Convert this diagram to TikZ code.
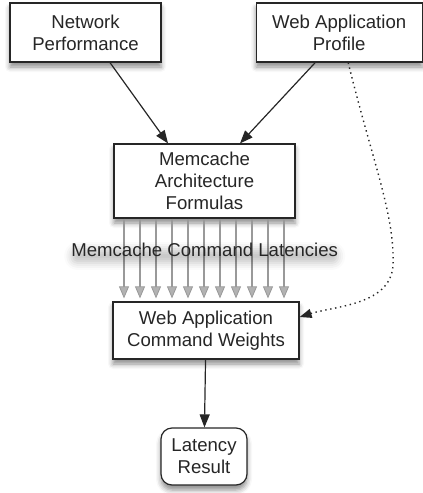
\documentclass[tikz,border=0pt]{standalone}
\usepackage{fontspec}
\setmainfont{Liberation Sans}
\usetikzlibrary{arrows.meta,shadows.blur,calc}

\tikzset{
  box/.style={draw=black!85, line width=1.2pt, fill=white, align=center,
    font=\fontsize{18.6}{22}\selectfont, text=black!85, inner sep=0pt,
    blur shadow={shadow xshift=0pt, shadow yshift=-5pt,
                 shadow blur radius=5pt, shadow opacity=45}},
  arr/.style={-{Triangle[length=13pt,width=10pt]}, line width=1.2pt, draw=black!85},
  garr/.style={-{Triangle[length=12pt,width=10pt,fill=black!30,line width=0.8pt]},
    draw=black!40, line width=2pt, shorten >=3pt},
  dotarr/.style={-{Triangle[length=12pt,width=9pt]}, draw=black!85,
    line width=1.4pt, dash pattern=on 1.4pt off 3.6pt},
  lbl/.style={font=\fontsize{18.6}{22}\selectfont, inner sep=0pt, text=black!85,
    rounded corners=6pt,
    blur shadow={shadow xshift=0pt, shadow yshift=-6pt,
                 shadow blur radius=7pt, shadow opacity=22}}
}

\begin{document}
\begin{tikzpicture}[x=1pt,y=-1pt]
\useasboundingbox (0,0) rectangle (423,493);

% boxes
\node[box, minimum width=151pt, minimum height=59pt] (net) at (85.5,32.5)
  {Network\\Performance};
\node[box, minimum width=166pt, minimum height=59pt] (prof) at (339.2,32.5)
  {Web Application\\Profile};
\node[box, minimum width=181pt, minimum height=74pt] (form) at (204.5,181)
  {Memcache\\Architecture\\Formulas};
\node[box, minimum width=186pt, minimum height=57pt] (wts) at (206,330.5)
  {Web Application\\Command Weights};
\node[box, minimum width=86pt, minimum height=57pt, rounded corners=11pt] (res) at (204,456.5)
  {Latency\\Result};

% inputs into the formulas
\draw[arr] ([xshift=24.5pt]net.south) -- ([xshift=-36.5pt]form.north);
\draw[arr] ([xshift=-24pt]prof.south) -- ([xshift=35.5pt]form.north);

% bundle of command latencies
\foreach \k in {-5,...,5}
  \draw[garr] ([xshift=\k*16pt-0.5pt]form.south) -- ([xshift=\k*16pt-2pt]wts.north);

% label over the bundle, with a soft shadow
\node[lbl] (lat) at (204.7,250) {Memcache Command Latencies};

% profile feeds the weights
\coordinate (c1) at (372,160);
\coordinate (c2) at (395,215);
\coordinate (mid) at (393,265);
\coordinate (c3) at (391,305);
\coordinate (c4) at (335,306);
\draw[dotarr] ([xshift=9pt]prof.south) .. controls (c1) and (c2) .. (mid)
  .. controls (c3) and (c4) .. ([yshift=13.5pt]wts.east);

% result
\draw[arr] (wts) -- (res);
\end{tikzpicture}
\end{document}
